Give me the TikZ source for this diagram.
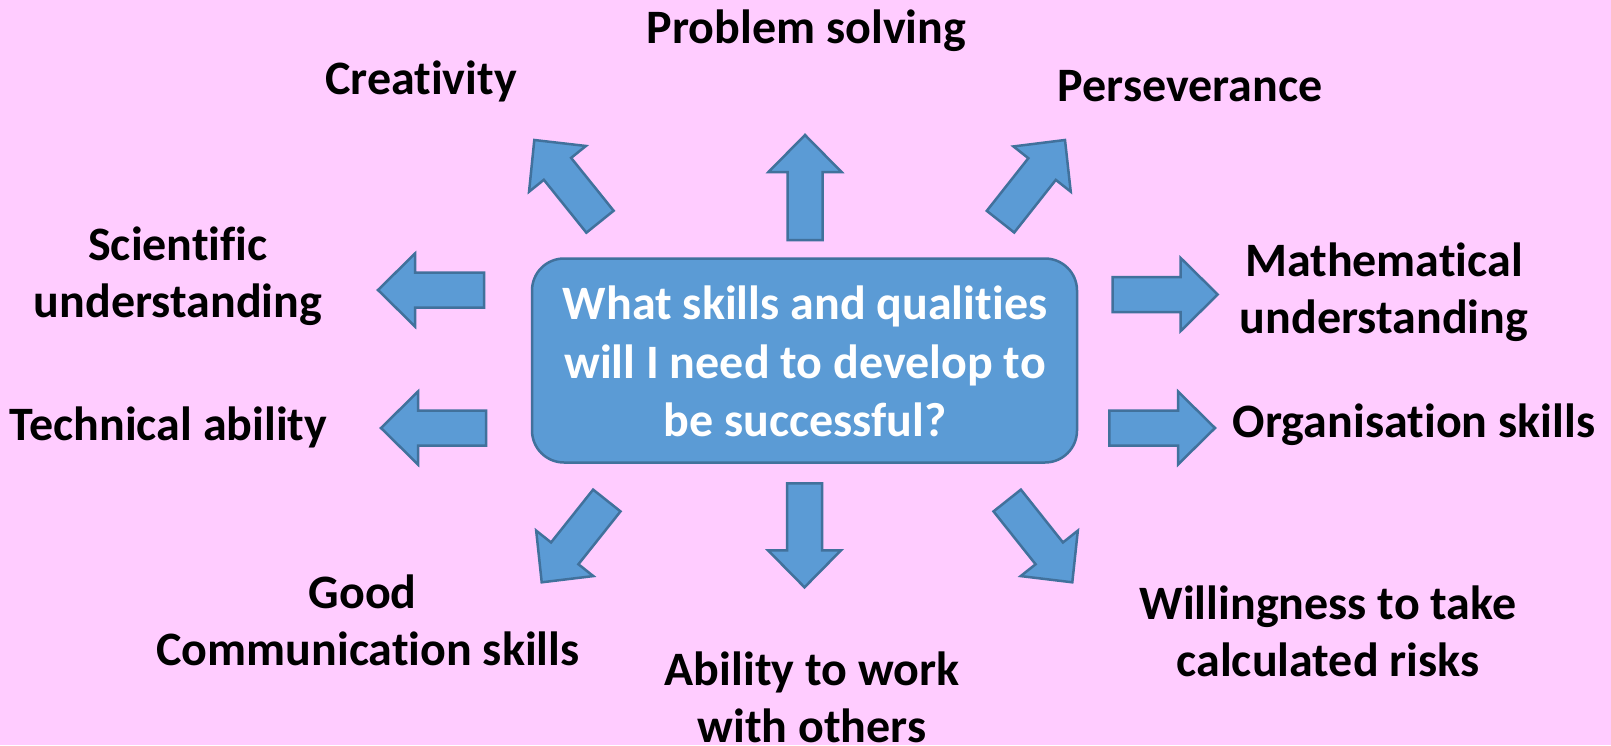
\documentclass[tikz,border=0pt]{standalone}
\usepackage{fontspec}
\setmainfont{Carlito}[Ligatures={NoCommon}]
\usetikzlibrary{calc}
\definecolor{bgpink}{HTML}{FFCCFF}
\definecolor{boxblue}{HTML}{5B9BD5}
\definecolor{edgeblue}{HTML}{41719C}
\tikzset{
  blockarr/.style={fill=boxblue, draw=edgeblue, line width=2.5pt, line join=miter},
  lbl/.style={inner sep=0pt, anchor=base, font=\fontsize{48}{57}\selectfont\bfseries, text=black},
  qbox/.style={fill=boxblue, draw=edgeblue, line width=2.5pt, rounded corners=32pt, minimum width=545pt, minimum height=204pt, inner sep=0pt},
  qlbl/.style={inner sep=0pt, anchor=base, font=\fontsize{48}{58.5}\selectfont\bfseries, text=white}
}
\newcommand{\blockarrow}[3]{%
  \coordinate (#1b) at (#2);
  \coordinate (#1t) at (#3);
  \coordinate (#1h) at ($(#1t)!37pt!(#1b)$);
  \draw[blockarr] ($(#1b)!17.5pt!90:(#1t)$) -- ($(#1h)!17.5pt!-90:(#1b)$) -- ($(#1h)!36.5pt!-90:(#1b)$) -- (#1t) -- ($(#1h)!36.5pt!90:(#1b)$) -- ($(#1h)!17.5pt!90:(#1b)$) -- ($(#1b)!17.5pt!-90:(#1t)$) -- cycle;
}
\begin{document}
\begin{tikzpicture}[x=1pt,y=-1pt]
\fill[bgpink] (0,0) rectangle (1611,745);
\useasboundingbox (0,0) rectangle (1611,745);

% central question box
\node[qbox] (q) at (804.5,360.5) {};
\node[qlbl] (qtext) at (805,319.5) {\begin{tabular}[t]{@{}c@{}}What skills and qualities\\will I need to develop to\\be successful?\end{tabular}};

% block arrows
\blockarrow{aul}{600,221.7}{534.3,140}
\blockarrow{aup}{805,240}{805,135}
\blockarrow{aur}{1000.5,221.7}{1065,140}
\blockarrow{asci}{484,290}{378,290}
\blockarrow{atech}{486,428}{381,428}
\blockarrow{amath}{1112.7,294.5}{1217.7,294.5}
\blockarrow{aorg}{1109.3,428}{1215,428}
\blockarrow{adl}{606.8,500.5}{541.7,582.3}
\blockarrow{adown}{804.5,483.3}{804.5,587.3}
\blockarrow{adr}{1007.2,500.5}{1072.3,582.3}

% labels
\node[lbl] (prob) at (806.5,43) {Problem solving};
\node[lbl] (creat) at (421,94.5) {Creativity};
\node[lbl] (pers) at (1190,101.7) {Perseverance};
\node[lbl] (sci) at (178,260) {\begin{tabular}[t]{@{}c@{}}Scientific\\understanding\end{tabular}};
\node[lbl] (math) at (1384,276) {\begin{tabular}[t]{@{}c@{}}Mathematical\\understanding\end{tabular}};
\node[lbl] (tech) at (168.5,440) {Technical ability};
\node[lbl] (org) at (1414,437) {Organisation skills};
\node[lbl] (good) at (368,608) {\begin{tabular}[t]{@{}c@{}}Good\hspace*{0.226em}\\Communication skills\end{tabular}};
\node[lbl] (abil) at (812,685) {\begin{tabular}[t]{@{}c@{}}Ability to work\\with others\end{tabular}};
\node[lbl] (will) at (1328,619.5) {\begin{tabular}[t]{@{}c@{}}Willingness to take\\calculated risks\end{tabular}};
\end{tikzpicture}
\end{document}
